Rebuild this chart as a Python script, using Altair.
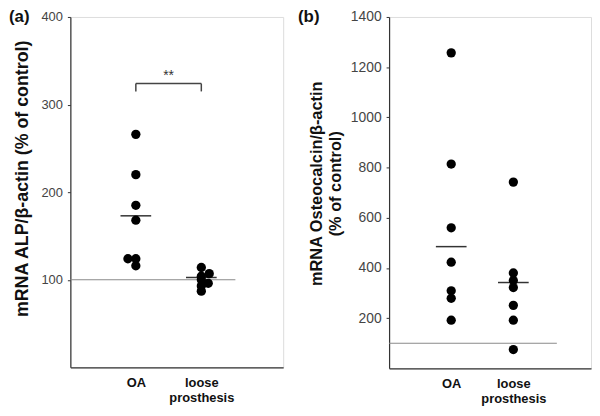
import altair as alt
import pandas as pd

FONT = "Liberation Sans"

# ---------------- data ----------------
categories = ["OA", "loose prosthesis"]
cat_pos = [1, 2]

# panel (a): mRNA ALP/beta-actin (% of control)
a_oa = [266, 220, 185, 168, 124, 124, 116]
a_loose = [114, 107, 104, 100, 96, 93, 87]
a_oa_jit_px = [0, 0, 0, 0, -8, 0, 0]
a_loose_jit_px = [0, 8, 0, 0, 7, 0, 0]
a_means = [173, 102.6]
a_control = 100
a_bracket = [324, 315]
a_sig = "**"

# panel (b): mRNA Osteocalcin/beta-actin (% of control)
b_oa = [1257, 814, 560, 423, 309, 279, 192]
b_loose = [742, 380, 350, 322, 251, 192, 75]
b_means = [485, 342]
b_control = 100

# ---------------- layout constants ----------------
XMAX = 3.25
WA, HA = 215, 354
WB, HB = 204, 355
MEAN_HALF_PX = 15.5


def pts_frame(oa, loose, jit_oa, jit_loose, width):
    rows = []
    k = XMAX / width
    for v, j in zip(oa, jit_oa):
        rows.append({"x": cat_pos[0] + j * k, "y": v})
    for v, j in zip(loose, jit_loose):
        rows.append({"x": cat_pos[1] + j * k, "y": v})
    return pd.DataFrame(rows)


def x_axis():
    return alt.Axis(
        values=cat_pos,
        labelExpr="datum.value == 1 ? 'OA' : ['loose', 'prosthesis']",
        ticks=False, grid=False, title=None,
        labelFont=FONT, labelFontSize=13, labelFontWeight="bold",
        labelColor="#111", labelPadding=9, labelLineHeight=16,
        labelBaseline="top", labelAlign="center",
        domainColor="#333", domainWidth=1.2,
    )


def panel(oa, loose, jit_oa, jit_loose, means, control, width, height,
          ymax, yvals, title, title_x, title_y, title_size, tag_text, tag_x,
          ref_end, label_size):
    xs = alt.Scale(domain=[0, XMAX], nice=False, zero=False)
    ys = alt.Scale(domain=[0, ymax], nice=False)
    yaxis = alt.Axis(
        values=yvals, grid=False, title=title, format="d",
        labelFont=FONT, labelFontSize=label_size, labelColor="#444",
        labelPadding=5, tickSize=3, tickColor="#333",
        domainColor="#333", domainWidth=1.2,
        titleFont=FONT, titleFontSize=title_size, titleFontWeight="bold",
        titleColor="#111", titleAngle=270, titleAlign="center",
        titleBaseline="middle", titleX=title_x, titleY=title_y,
        titleLineHeight=19,
    )
    pts = pts_frame(oa, loose, jit_oa, jit_loose, width)
    k = XMAX / width
    mean_df = pd.DataFrame({
        "x": [p - MEAN_HALF_PX * k for p in cat_pos],
        "x2": [p + MEAN_HALF_PX * k for p in cat_pos],
        "y": means,
    })
    ref_df = pd.DataFrame({"x": [0], "x2": [ref_end], "y": [control]})

    base = alt.Chart(pts).mark_circle(size=88, color="black", opacity=1).encode(
        x=alt.X("x:Q", scale=xs, axis=x_axis()),
        y=alt.Y("y:Q", scale=ys, axis=yaxis),
    )
    ref = alt.Chart(ref_df).mark_rule(color="#8a8a8a", strokeWidth=1.2).encode(
        x=alt.X("x:Q", scale=xs), x2="x2:Q", y=alt.Y("y:Q", scale=ys))
    mean = alt.Chart(mean_df).mark_rule(color="#333", strokeWidth=1.5).encode(
        x=alt.X("x:Q", scale=xs), x2="x2:Q", y=alt.Y("y:Q", scale=ys))
    tag_layer = alt.Chart(pd.DataFrame({"t": [tag_text]})).mark_text(
        font=FONT, fontSize=17, fontWeight="bold", color="#111",
        align="left", baseline="middle",
    ).encode(text="t:N", x=alt.value(tag_x), y=alt.value(0))
    return alt.layer(ref, mean, base, tag_layer).properties(
        width=width, height=height)


pa = panel(a_oa, a_loose, a_oa_jit_px, a_loose_jit_px, a_means, a_control,
           WA, HA, 400, [100, 200, 300, 400],
           "mRNA ALP/β-actin (% of control)", -48, 163, 18,
           "(a)", -62, 2.52, 13)

# significance bracket in (a)
br_h = pd.DataFrame({"x": [cat_pos[0]], "x2": [cat_pos[1]], "y": [a_bracket[0]]})
br_v = pd.DataFrame({"x": cat_pos, "y": [a_bracket[0]] * 2, "y2": [a_bracket[1]] * 2})
xs_a = alt.Scale(domain=[0, XMAX], nice=False, zero=False)
ys_a = alt.Scale(domain=[0, 400], nice=False)
bracket_h = alt.Chart(br_h).mark_rule(color="#444", strokeWidth=1.5).encode(
    x=alt.X("x:Q", scale=xs_a), x2="x2:Q", y=alt.Y("y:Q", scale=ys_a))
bracket_v = alt.Chart(br_v).mark_rule(color="#444", strokeWidth=1.5).encode(
    x=alt.X("x:Q", scale=xs_a), y=alt.Y("y:Q", scale=ys_a), y2="y2:Q")
sig = alt.Chart(pd.DataFrame({"x": [1.5], "y": [a_bracket[0]], "t": [a_sig]})).mark_text(
    font=FONT, fontSize=14, color="#333", baseline="bottom", dy=-1,
).encode(x=alt.X("x:Q", scale=xs_a), y=alt.Y("y:Q", scale=ys_a), text="t:N")
pa = alt.layer(pa, bracket_h, bracket_v, sig)

pb = panel(b_oa, b_loose, [0] * 7, [0] * 7, b_means, b_control,
           WB, HB, 1400, [200, 400, 600, 800, 1000, 1200, 1400],
           ["mRNA Osteocalcin/β-actin", "(% of control)"], -73, 168, 16.5,
           "(b)", -92, 2.70, 14)

chart = alt.hconcat(
    pa, pb, spacing=107, bounds="flush",
    padding={"top": -3, "left": 0, "right": 0, "bottom": 0},
).configure_view(stroke=None).configure(font=FONT)

chart.save("out.html", embed_options={"renderer": "svg", "actions": False})
